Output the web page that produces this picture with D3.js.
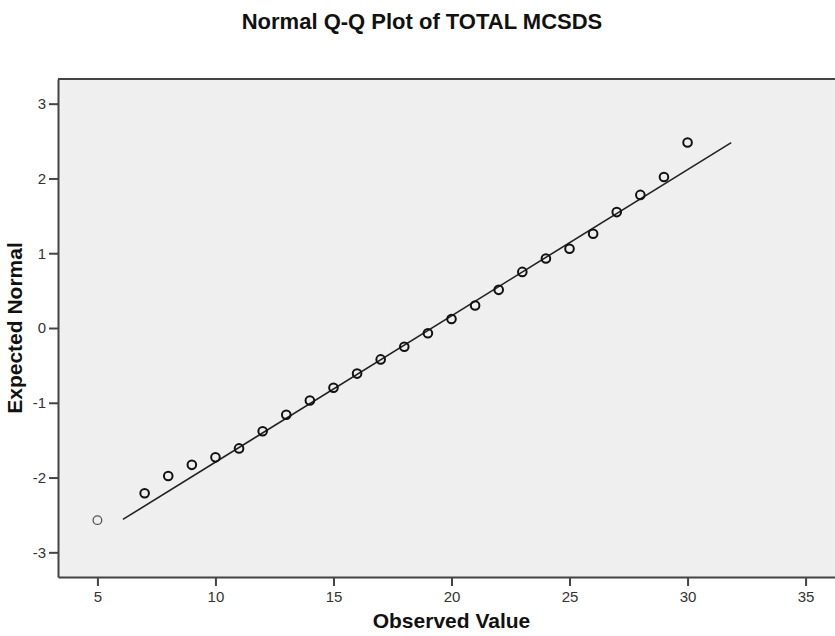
<!DOCTYPE html>
<html lang="en">
<head>
    <meta charset="UTF-8">
    <title>Normal Q-Q Plot of TOTAL MCSDS</title>
    <script src="https://d3js.org/d3.v7.min.js"></script>
    <style>
        body {
            margin: 0;
            background: #fff;
            font-family: "Liberation Sans", Arial, sans-serif;
        }
        .axis-label, .title {
            font-weight: bold;
            fill: #111;
        }
    </style>
</head>
<body>
    <svg id="chart" width="835" height="636"></svg>
    <script>
        // Data
        const observed = [5, 7, 8, 9, 10, 11, 12, 13, 14, 15, 16, 17, 18, 19, 20,
                          21, 22, 23, 24, 25, 26, 27, 28, 29, 30];
        const expected = [-2.57, -2.21, -1.98, -1.83, -1.73, -1.61, -1.38, -1.16, -0.97, -0.80,
                          -0.61, -0.42, -0.25, -0.07, 0.12, 0.30, 0.51, 0.75, 0.93, 1.06,
                          1.26, 1.55, 1.78, 2.02, 2.48];
        // reference line end points
        const refLineX = [6.08, 31.85];
        const refLineY = [-2.56, 2.48];
        const xTicks = [5, 10, 15, 20, 25, 30, 35];
        const yTicks = [-3, -2, -1, 0, 1, 2, 3];

        // plot area (right edge runs past the window)
        const plot = { left: 58, top: 79, right: 845, bottom: 577 };

        const svg = d3.select("#chart");

        const x = d3.scaleLinear().domain([3.33, 36.67]).range([plot.left, plot.right]);
        const y = d3.scaleLinear().domain([-3.33, 3.33]).range([plot.bottom, plot.top]);

        // Background
        svg.append("rect")
            .attr("x", plot.left)
            .attr("y", plot.top)
            .attr("width", plot.right - plot.left)
            .attr("height", plot.bottom - plot.top)
            .attr("fill", "#efefef");

        // Top border
        svg.append("line")
            .attr("x1", plot.left).attr("x2", plot.right)
            .attr("y1", plot.top).attr("y2", plot.top)
            .attr("stroke", "#444").attr("stroke-width", 2);

        // Axes - plain hyphen for negatives, no decimals
        const fmt = d => String(d);
        const xAxis = svg.append("g")
            .attr("transform", `translate(0,${plot.bottom})`)
            .call(d3.axisBottom(x).tickValues(xTicks).tickFormat(fmt)
                .tickSize(9).tickSizeOuter(0).tickPadding(5));
        const yAxis = svg.append("g")
            .attr("transform", `translate(${plot.left},0)`)
            .call(d3.axisLeft(y).tickValues(yTicks).tickFormat(fmt)
                .tickSize(9).tickSizeOuter(0).tickPadding(3));

        [xAxis, yAxis].forEach(g => {
            g.select(".domain").attr("stroke", "#444").attr("stroke-width", 2);
            g.selectAll(".tick line").attr("stroke", "#444").attr("stroke-width", 2);
            g.attr("font-family", "Liberation Sans, Arial, sans-serif").attr("font-size", 15);
            g.selectAll(".tick text").attr("fill", "#333");
        });

        // Reference line
        svg.append("line")
            .attr("x1", x(refLineX[0])).attr("y1", y(refLineY[0]))
            .attr("x2", x(refLineX[1])).attr("y2", y(refLineY[1]))
            .attr("stroke", "#222")
            .attr("stroke-width", 1.6);

        // Points
        svg.selectAll(".pt")
            .data(observed)
            .enter()
            .append("circle")
            .attr("class", "pt")
            .attr("cx", d => x(d))
            .attr("cy", (d, i) => y(expected[i]))
            .attr("r", 4.3)
            .attr("fill", "none")
            .attr("stroke", (d, i) => i === 0 ? "#555" : "#111")
            .attr("stroke-width", (d, i) => i === 0 ? 1.3 : 2);

        // Title
        svg.append("text")
            .attr("class", "title")
            .attr("x", 422)
            .attr("y", 29)
            .attr("text-anchor", "middle")
            .style("font-size", "22px")
            .text("Normal Q-Q Plot of TOTAL MCSDS");

        // X label
        svg.append("text")
            .attr("class", "axis-label")
            .attr("x", (plot.left + plot.right) / 2)
            .attr("y", 628)
            .attr("text-anchor", "middle")
            .style("font-size", "21px")
            .text("Observed Value");

        // Y label
        svg.append("text")
            .attr("class", "axis-label")
            .attr("transform", "rotate(-90)")
            .attr("x", -(plot.top + plot.bottom) / 2)
            .attr("y", 22)
            .attr("text-anchor", "middle")
            .style("font-size", "21px")
            .text("Expected Normal");
    </script>
</body>
</html>
